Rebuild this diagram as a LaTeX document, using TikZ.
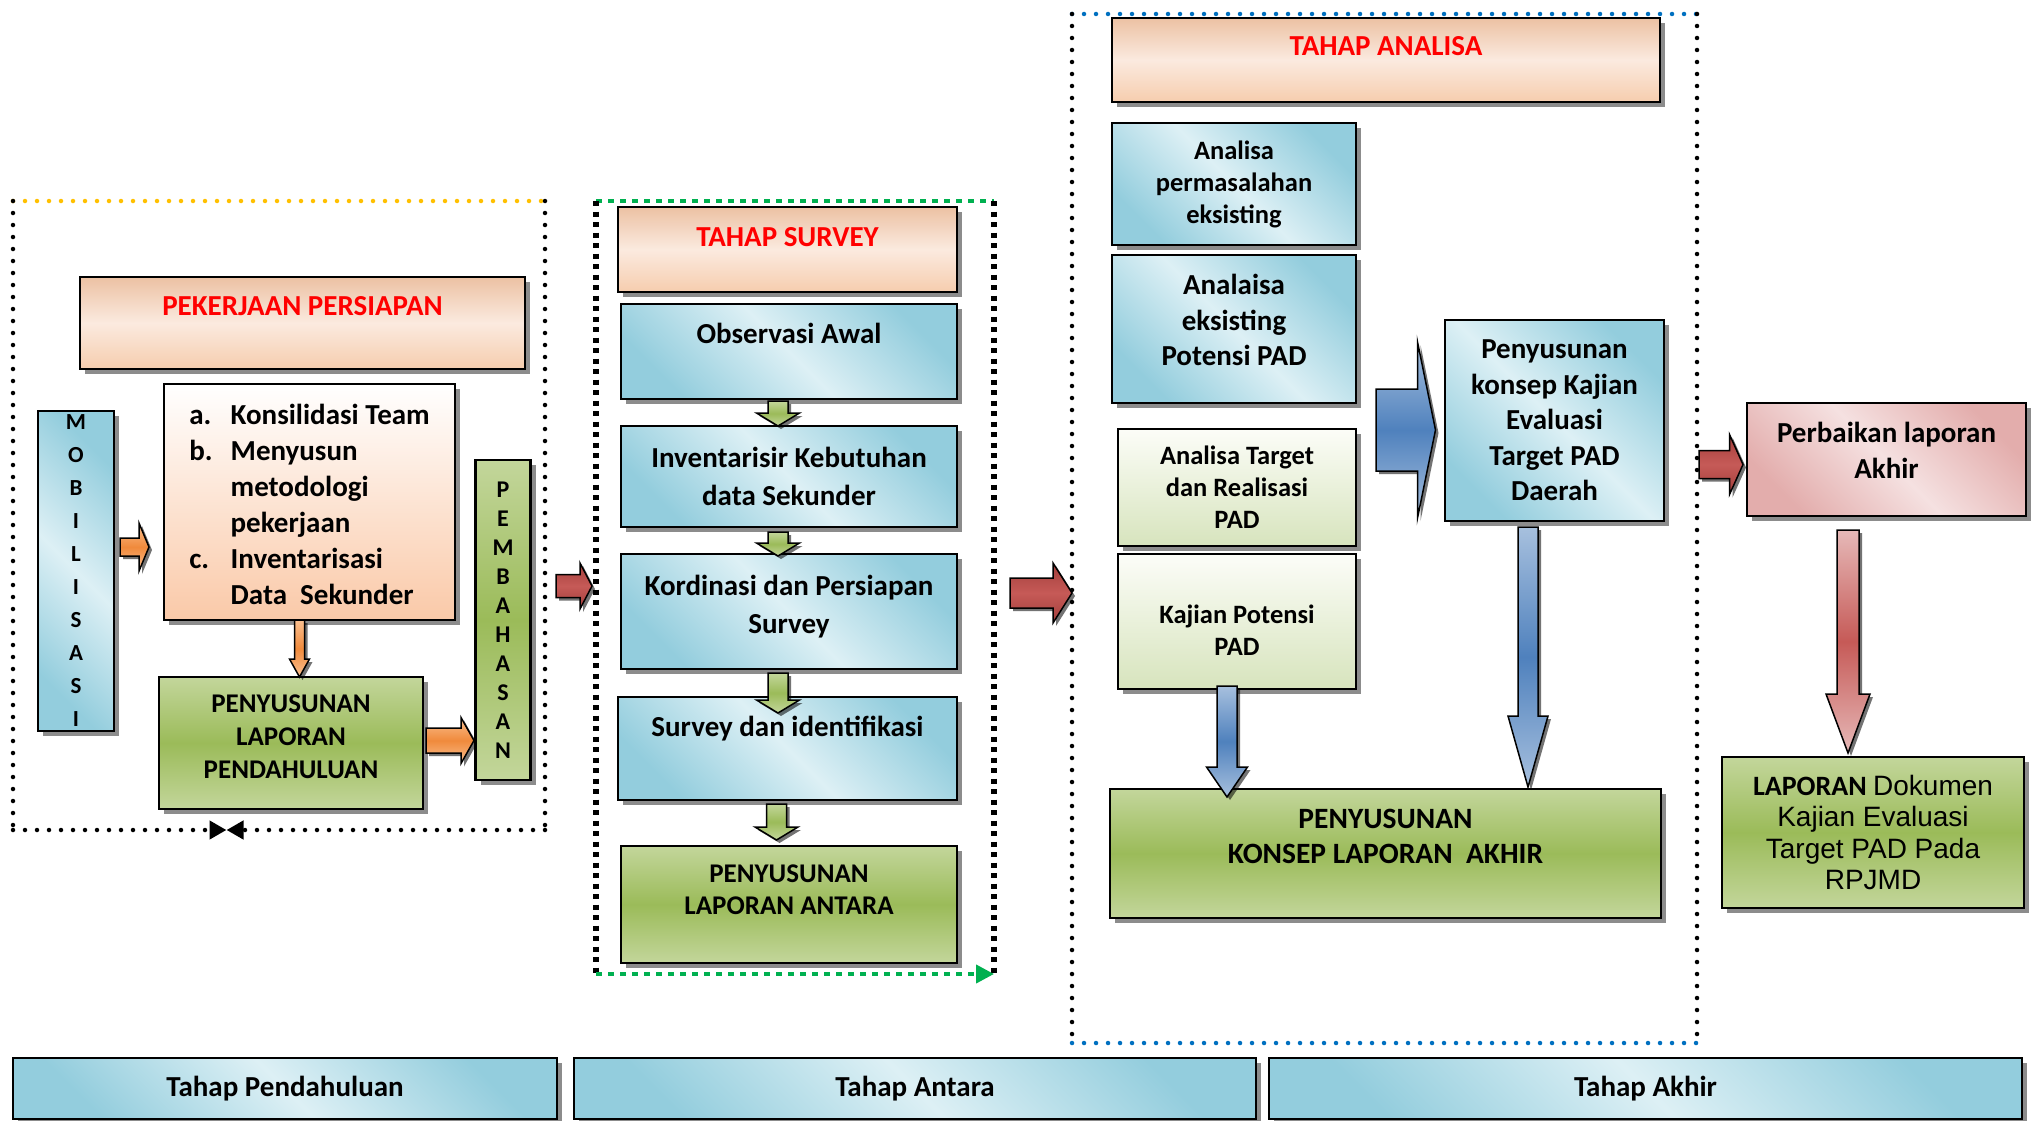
\documentclass[tikz,border=0pt]{standalone}
\usepackage{fontspec}
\setmainfont{Carlito}
\newfontfamily\arialfont{Liberation Sans}
\usetikzlibrary{arrows.meta, calc, shadows}

\definecolor{bdark}{HTML}{93CDDD}
\definecolor{blight}{HTML}{DDF0F5}
\definecolor{gdark}{HTML}{9BBB59}
\definecolor{glight}{HTML}{C3D69B}
\definecolor{ptop}{HTML}{ECC1A3}
\definecolor{pmid}{HTML}{FBEADF}
\definecolor{pbot}{HTML}{F6CDAE}
\definecolor{lbot}{HTML}{FAC9A8}
\definecolor{lgtop}{HTML}{FCFDF8}
\definecolor{lgbot}{HTML}{D7E4BD}
\definecolor{rdark}{HTML}{E3ADAC}
\definecolor{rlight}{HTML}{F5E1E1}
\definecolor{oedge}{HTML}{FAC090}
\definecolor{omid}{HTML}{F08A3C}
\definecolor{redge}{HTML}{A23E3B}
\definecolor{rmid}{HTML}{C65A57}
\definecolor{pinkedge}{HTML}{E6B9B8}
\definecolor{bedge}{HTML}{A7C0DE}
\definecolor{bmid}{HTML}{4F81BD}
\definecolor{dotyellow}{HTML}{FFC000}
\definecolor{dotgreen}{HTML}{00B050}
\definecolor{dotblue}{HTML}{0070C0}

% block arrows between two nodes: style, from, to, half shaft, half head, head length
\newcommand{\blkright}[6]{%
  \draw[#1] let \p1=(#2), \p2=(#3) in
    (\x1,\y1+#4) -- (\x2-#6,\y1+#4) -- (\x2-#6,\y1+#5) -- (\x2,\y1)
    -- (\x2-#6,\y1-#5) -- (\x2-#6,\y1-#4) -- (\x1,\y1-#4) -- cycle;}
\newcommand{\blkdown}[6]{%
  \draw[#1] let \p1=(#2), \p2=(#3) in
    (\x1-#4,\y1) -- (\x1-#4,\y2+#6) -- (\x1-#5,\y2+#6) -- (\x1,\y2)
    -- (\x1+#5,\y2+#6) -- (\x1+#4,\y2+#6) -- (\x1+#4,\y1) -- cycle;}

\tikzset{
  wh/.style 2 args={minimum width=#1pt, minimum height=#2pt},
  framebox/.style={outer sep=0pt, inner sep=0pt},
  box/.style={draw=black, line width=2.5pt, outer sep=0pt, inner sep=0pt, align=center,
    font=\fontsize{29}{36}\selectfont\bfseries,
    drop shadow={shadow xshift=5pt, shadow yshift=-5pt, fill=black, opacity=.45}},
  bluebox/.style={box, left color=bdark, right color=bdark, middle color=blight, shading angle=-45},
  greenbox/.style={box, top color=glight, bottom color=glight, middle color=gdark},
  titlebox/.style={box, top color=ptop, bottom color=pbot, middle color=pmid, text=red},
  listbox/.style={box, top color=white, bottom color=lbot},
  lgreenbox/.style={box, top color=lgtop, bottom color=lgbot},
  pinkbox/.style={box, left color=rdark, right color=rdark, middle color=rlight, shading angle=-45},
  arr/.style={draw=black, line width=1.5pt,
    drop shadow={shadow xshift=3pt, shadow yshift=-3pt, fill=black, opacity=.55}},
  orangearr/.style={arr, top color=oedge, bottom color=oedge, middle color=omid},
  redarr/.style={arr, top color=redge, bottom color=redge, middle color=rmid},
  pinkarr/.style={arr, top color=pinkedge, bottom color=pinkedge, middle color=rmid},
  greenarr/.style={arr, top color=glight, bottom color=glight, middle color=gdark},
  bluearr/.style={arr, top color=bedge, bottom color=bedge, middle color=bmid},
  blackdots/.style={line width=4.5pt, line cap=round, dash pattern=on 0pt off 12pt},
  yellowdots/.style={blackdots, draw=dotyellow},
  bluedots/.style={blackdots, draw=dotblue},
  squaredots/.style={line width=6pt, dash pattern=on 5pt off 5.5pt},
  greendash/.style={draw=dotgreen, line width=4pt, dash pattern=on 6pt off 6pt}
}

\begin{document}
\begin{tikzpicture}[x=1pt, y=-1pt]
\useasboundingbox[fill=white] (0,0) rectangle (2031,1121);

% frames
\node[framebox, wh={532}{629}] (frA) at (279,515.5) {};
\node[framebox, wh={398}{773}] (frB) at (795,587.5) {};
\node[framebox, wh={625}{1029}] (frC) at (1384.5,528.5) {};
\coordinate (meet) at (226.5,830);

\draw[yellowdots] (frA.north west) -- (frA.north east);
\draw[blackdots] (frA.north west) -- (frA.south west);
\draw[blackdots] (frA.north east) -- (frA.south east);
\draw[blackdots, -{Triangle[length=17pt,width=18pt]}] (frA.south west) -- (meet);
\draw[blackdots, -{Triangle[length=17pt,width=18pt]}] (frA.south east) -- (meet);

\draw[greendash] (frB.north west) -- (frB.north east);
\draw[squaredots] (frB.north west) -- (frB.south west);
\draw[squaredots] (frB.north east) -- (frB.south east);
\draw[greendash, -{Triangle[length=18pt,width=18pt]}] (frB.south west) -- (frB.south east);

\draw[bluedots] (frC.north west) -- (frC.north east);
\draw[bluedots] (frC.south west) -- (frC.south east);
\draw[blackdots] (frC.north west) -- (frC.south west);
\draw[blackdots] (frC.north east) -- (frC.south east);

% tahap pendahuluan
\node[titlebox, wh={445}{92}, text depth=34pt] (pers) at (302.5,323) {PEKERJAAN PERSIAPAN};
\node[bluebox, wh={76}{320}, font=\fontsize{23}{33}\selectfont\bfseries] (mob) at (76,571) {M\\O\\B\\I\\L\\I\\S\\A\\S\\I};
\node[listbox, wh={291}{236}, text height=125pt] (list) at (309.5,502) {\begin{tabular}{@{}l@{\hspace{18pt}}l@{}}a. & Konsilidasi Team\\b. & Menyusun\\ & metodologi\\ & pekerjaan\\c. & Inventarisasi\\ & Data\ \ Sekunder\end{tabular}};
\node[greenbox, wh={264}{132}, font=\fontsize{27}{33}\selectfont\bfseries, text depth=12pt] (pend) at (291,743) {PENYUSUNAN\\LAPORAN\\PENDAHULUAN};
\node[greenbox, wh={55}{320}, font=\fontsize{24}{29}\selectfont\bfseries] (pemb) at (503,620) {P\\E\\M\\B\\A\\H\\A\\S\\A\\N};

% tahap survey
\node[titlebox, wh={339}{85}, text depth=26pt] (tsurv) at (787.5,249.5) {TAHAP SURVEY};
\node[bluebox, wh={336}{95}, text depth=37pt] (obs) at (789,351.5) {Observasi Awal};
\node[bluebox, wh={336}{101}, font=\fontsize{29}{38}\selectfont\bfseries] (inv) at (789,476.5) {Inventarisir Kebutuhan\\data Sekunder};
\node[bluebox, wh={336}{115}, font=\fontsize{29}{38}\selectfont\bfseries, text depth=14pt] (kor) at (789,611.5) {Kordinasi dan Persiapan\\Survey};
\node[bluebox, wh={339}{103}, text depth=44pt] (sur) at (787.5,748.5) {Survey dan identifikasi};
\node[greenbox, wh={336}{117}, font=\fontsize{27}{32}\selectfont\bfseries, text depth=30pt] (ant) at (789,904.5) {PENYUSUNAN\\LAPORAN ANTARA};

% tahap analisa
\node[titlebox, wh={548}{84}, text depth=28pt] (tanal) at (1386,60) {TAHAP ANALISA};
\node[bluebox, wh={244}{122}, font=\fontsize{26.5}{32}\selectfont\bfseries] (perm) at (1234,184) {Analisa\\permasalahan\\eksisting};
\node[bluebox, wh={244}{148}, font=\fontsize{29}{35.5}\selectfont\bfseries, text depth=18pt] (eks) at (1234,329) {Analaisa\\eksisting\\Potensi PAD};
\node[lgreenbox, wh={238}{117}, font=\fontsize{26.5}{32}\selectfont\bfseries] (target) at (1237,487.5) {Analisa Target\\dan Realisasi\\PAD};
\node[lgreenbox, wh={238}{135}, font=\fontsize{26.5}{32}\selectfont\bfseries, text height=68pt] (kaj) at (1237,621.5) {Kajian Potensi\\PAD};
\node[bluebox, wh={219}{201}, font=\fontsize{29}{35.5}\selectfont\bfseries] (kons) at (1554.5,420.5) {Penyusunan\\konsep Kajian\\Evaluasi\\Target PAD\\Daerah};
\node[greenbox, wh={551}{129}, font=\fontsize{29.5}{35.5}\selectfont\bfseries, text depth=34pt] (akhir) at (1385.5,853.5) {PENYUSUNAN\\KONSEP LAPORAN\ \ AKHIR};
\coordinate (gap) at (1376,430);

% laporan akhir
\node[pinkbox, wh={279}{113}, text depth=18pt] (perb) at (1886.5,459.5) {Perbaikan laporan\\Akhir};
\node[greenbox, wh={302}{151}, font=\fontsize{28}{31.5}\selectfont] (lap) at (1873,832.5) {\textbf{LAPORAN} \arialfont Dokumen\\\arialfont Kajian Evaluasi\\\arialfont Target PAD Pada\\\arialfont RPJMD};

\node[bluebox, wh={544}{61}] (bar1) at (285,1088.5) {Tahap Pendahuluan};
\node[bluebox, wh={682}{61}] (bar2) at (915,1088.5) {Tahap Antara};
\node[bluebox, wh={753}{61}] (bar3) at (1645.5,1088.5) {Tahap Akhir};

% arrows
\blkright{orangearr}{[xshift=6pt,yshift=24pt]mob.east}{[xshift=-15pt]list.west}{9pt}{24pt}{10pt}
\blkdown{orangearr}{[xshift=-10pt]list.south}{pend.north}{5pt}{10pt}{18pt}
\blkright{orangearr}{[xshift=3pt,yshift=2.5pt]pend.east}{[xshift=-1.5pt]pemb.west}{12.5pt}{23pt}{13pt}
\blkright{redarr}{[xshift=11pt,yshift=-70.5pt]frA.east}{[xshift=-4pt]frB.west}{11.5pt}{23pt}{12pt}
\blkright{redarr}{[xshift=16pt,yshift=-5.5pt]frB.east}{frC.west}{15pt}{30pt}{19pt}
\blkright{redarr}{[xshift=-48pt,yshift=-5pt]perb.west}{[xshift=-4pt]perb.west}{14pt}{30pt}{13.5pt}
\blkdown{pinkarr}{[xshift=-38.5pt,yshift=-14pt]perb.south}{[yshift=4pt]lap.north}{11pt}{22pt}{59pt}

\blkdown{greenarr}{[xshift=-11pt,yshift=-2pt]obs.south}{inv.north}{10pt}{21.5pt}{13pt}
\blkdown{greenarr}{[xshift=-11pt,yshift=-5pt]inv.south}{[yshift=-2pt]kor.north}{10pt}{21.5pt}{13pt}
\blkdown{greenarr}{[xshift=-11pt,yshift=-4pt]kor.south}{[yshift=-16pt]sur.north}{10pt}{21.5pt}{13pt}
\blkdown{greenarr}{[xshift=-11pt,yshift=-4pt]sur.south}{[yshift=6pt]ant.north}{10pt}{21.5pt}{13pt}

\blkright{bluearr}{gap}{[xshift=-9.5pt]kons.west}{41pt}{88pt}{18pt}
\blkdown{bluearr}{[xshift=-10pt,yshift=3pt]kaj.south}{[yshift=-8pt]akhir.north}{10pt}{20.5pt}{30pt}
\blkdown{bluearr}{[xshift=-26.5pt,yshift=-6pt]kons.south}{[yshift=2pt]akhir.north}{10pt}{20pt}{71pt}
\end{tikzpicture}
\end{document}
